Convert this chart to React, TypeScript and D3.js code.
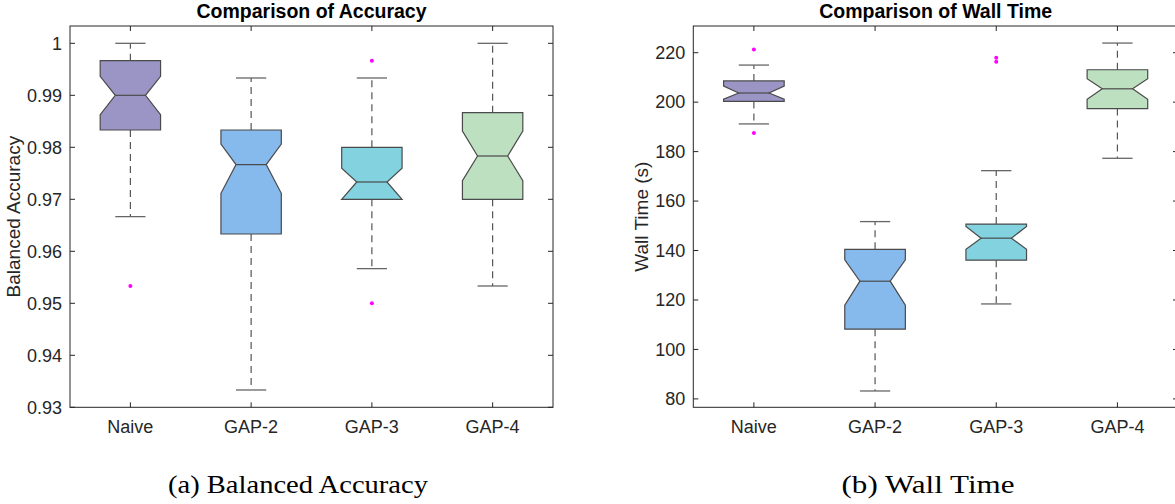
import * as d3 from "d3";

const W = 1175;
const H = 504;

const categories = ["Naive", "GAP-2", "GAP-3", "GAP-4"];
const boxColors = ["#9b95c6", "#86b9ec", "#82d3df", "#bde0c0"];

// Balanced accuracy
const accUpper = [1.0, 0.99333, 0.99333, 1.0];
const accQ3 = [0.99667, 0.98333, 0.98, 0.98667];
const accNotchHi = [0.99365, 0.98063, 0.97596, 0.98313];
const accMedian = [0.99, 0.97667, 0.97333, 0.97833];
const accNotchLo = [0.98629, 0.97115, 0.97, 0.97358];
const accQ1 = [0.98333, 0.96333, 0.97, 0.97];
const accLower = [0.96667, 0.93333, 0.95667, 0.95333];
const accOutliers = [[0.95333], [], [0.99667, 0.95], []];
const accTicks = [0.93, 0.94, 0.95, 0.96, 0.97, 0.98, 0.99, 1];

// Wall time in seconds
const wallUpper = [215, 151.7, 172.3, 223.9];
const wallQ3 = [208.6, 140.5, 150.7, 213.1];
const wallNotchHi = [206.5, 136.2, 149.7, 209.5];
const wallMedian = [203.7, 127.6, 145, 205.4];
const wallNotchLo = [201.2, 117.9, 140.5, 201.2];
const wallQ1 = [200.3, 108.2, 136.1, 197.4];
const wallLower = [191.2, 83.2, 118.4, 177.3];
const wallOutliers = [[221.3, 187.5], [], [218, 216.3], []];
const wallTicks = [80, 100, 120, 140, 160, 180, 200, 220];

const AXIS = "#262626";
const FONT = "'Liberation Sans', Arial, sans-serif";

type Stats = {
  upper: number[];
  q3: number[];
  nHi: number[];
  med: number[];
  nLo: number[];
  q1: number[];
  lower: number[];
  out: number[][];
};

function BoxPanel({
  x0,
  x1,
  y0,
  y1,
  domain,
  ticks,
  tickFmt,
  title,
  ylabel,
  labelX,
  s,
}: {
  x0: number;
  x1: number;
  y0: number;
  y1: number;
  domain: [number, number];
  ticks: number[];
  tickFmt: (v: number) => string;
  title: string;
  ylabel: string;
  labelX: number;
  s: Stats;
}) {
  const x = d3.scaleBand().domain(categories).range([x0, x1]).padding(0);
  const y = d3.scaleLinear().domain(domain).range([y1, y0]);
  const bw = x.bandwidth();
  const boxW = bw * 0.5;
  const notchW = boxW * 0.5;
  const capW = bw * 0.25;

  return (
    <g>
      <text
        x={(x0 + x1) / 2}
        y={18}
        textAnchor="middle"
        fontFamily={FONT}
        fontWeight="bold"
        fontSize={19.5}
        fill="#000"
      >
        {title}
      </text>

      {categories.map((c, i) => {
        const cx = (x(c) ?? 0) + bw / 2;
        const l = cx - boxW / 2;
        const r = cx + boxW / 2;
        const pts: [number, number][] = [
          [l, y(s.q1[i])],
          [l, y(s.nLo[i])],
          [cx - notchW / 2, y(s.med[i])],
          [l, y(s.nHi[i])],
          [l, y(s.q3[i])],
          [r, y(s.q3[i])],
          [r, y(s.nHi[i])],
          [cx + notchW / 2, y(s.med[i])],
          [r, y(s.nLo[i])],
          [r, y(s.q1[i])],
        ];
        const path = d3.line()(pts) + "Z";
        return (
          <g key={c}>
            <line
              x1={cx}
              x2={cx}
              y1={y(s.q3[i])}
              y2={y(s.upper[i])}
              stroke="#555"
              strokeWidth={1.2}
              strokeDasharray="7,5"
            />
            <line
              x1={cx}
              x2={cx}
              y1={y(s.q1[i])}
              y2={y(s.lower[i])}
              stroke="#555"
              strokeWidth={1.2}
              strokeDasharray="7,5"
            />
            <line
              x1={cx - capW / 2}
              x2={cx + capW / 2}
              y1={y(s.upper[i])}
              y2={y(s.upper[i])}
              stroke="#666"
              strokeWidth={1.3}
            />
            <line
              x1={cx - capW / 2}
              x2={cx + capW / 2}
              y1={y(s.lower[i])}
              y2={y(s.lower[i])}
              stroke="#666"
              strokeWidth={1.3}
            />
            <path d={path} fill={boxColors[i]} stroke="#4a4a4a" strokeWidth={1.2} />
            <line
              x1={cx - notchW / 2}
              x2={cx + notchW / 2}
              y1={y(s.med[i])}
              y2={y(s.med[i])}
              stroke="#4a4a4a"
              strokeWidth={1.2}
            />
            {s.out[i].map((v, j) => (
              <circle key={j} cx={cx} cy={y(v)} r={2} fill="#ff00ff" />
            ))}
          </g>
        );
      })}

      {/* axes box */}
      <rect
        x={x0}
        y={y0}
        width={x1 - x0}
        height={y1 - y0}
        fill="none"
        stroke={AXIS}
        strokeWidth={1}
      />

      {/* y ticks */}
      {ticks.map((t) => (
        <g key={t} transform={`translate(0,${y(t)})`}>
          <line x1={x0} x2={x0 + 5} stroke={AXIS} />
          <line x1={x1} x2={x1 - 5} stroke={AXIS} />
          <text
            x={x0 - 8}
            dy="0.35em"
            textAnchor="end"
            fontFamily={FONT}
            fontSize={18}
            fill={AXIS}
          >
            {tickFmt(t)}
          </text>
        </g>
      ))}

      {/* x ticks */}
      {categories.map((c) => {
        const cx = (x(c) ?? 0) + bw / 2;
        return (
          <g key={c}>
            <line x1={cx} x2={cx} y1={y1} y2={y1 - 5} stroke={AXIS} />
            <line x1={cx} x2={cx} y1={y0} y2={y0 + 5} stroke={AXIS} />
            <text
              x={cx}
              y={433}
              textAnchor="middle"
              fontFamily={FONT}
              fontSize={18}
              fill={AXIS}
            >
              {c}
            </text>
          </g>
        );
      })}

      <text
        transform={`translate(${labelX},${(y0 + y1) / 2}) rotate(-90)`}
        textAnchor="middle"
        fontFamily={FONT}
        fontSize={19}
        fill={AXIS}
      >
        {ylabel}
      </text>
    </g>
  );
}

export default function App() {
  const accStats: Stats = {
    upper: accUpper,
    q3: accQ3,
    nHi: accNotchHi,
    med: accMedian,
    nLo: accNotchLo,
    q1: accQ1,
    lower: accLower,
    out: accOutliers,
  };
  const wallStats: Stats = {
    upper: wallUpper,
    q3: wallQ3,
    nHi: wallNotchHi,
    med: wallMedian,
    nLo: wallNotchLo,
    q1: wallQ1,
    lower: wallLower,
    out: wallOutliers,
  };

  return (
    <div style={{ position: "absolute", left: 0, top: 0 }}>
      <svg width={W} height={H} style={{ display: "block", background: "#fff" }}>
        <BoxPanel
          x0={70}
          x1={553}
          y0={26}
          y1={407.3}
          domain={[0.93, 1.00333]}
          ticks={accTicks}
          tickFmt={(v) => (v === 1 ? "1" : d3.format(".2f")(v))}
          title="Comparison of Accuracy"
          ylabel="Balanced Accuracy"
          labelX={20}
          s={accStats}
        />
        <BoxPanel
          x0={693.3}
          x1={1178}
          y0={26}
          y1={407.3}
          domain={[76.6, 230.8]}
          ticks={wallTicks}
          tickFmt={(v) => String(v)}
          title="Comparison of Wall Time"
          ylabel="Wall Time (s)"
          labelX={648}
          s={wallStats}
        />
        <text
          x={298}
          y={493}
          textAnchor="middle"
          fontFamily="'Liberation Serif', 'Times New Roman', serif"
          fontSize={25}
          textLength={260}
          lengthAdjust="spacingAndGlyphs"
          fill="#000"
        >
          (a) Balanced Accuracy
        </text>
        <text
          x={928}
          y={493}
          textAnchor="middle"
          fontFamily="'Liberation Serif', 'Times New Roman', serif"
          fontSize={25}
          textLength={173}
          lengthAdjust="spacingAndGlyphs"
          fill="#000"
        >
          (b) Wall Time
        </text>
      </svg>
    </div>
  );
}
